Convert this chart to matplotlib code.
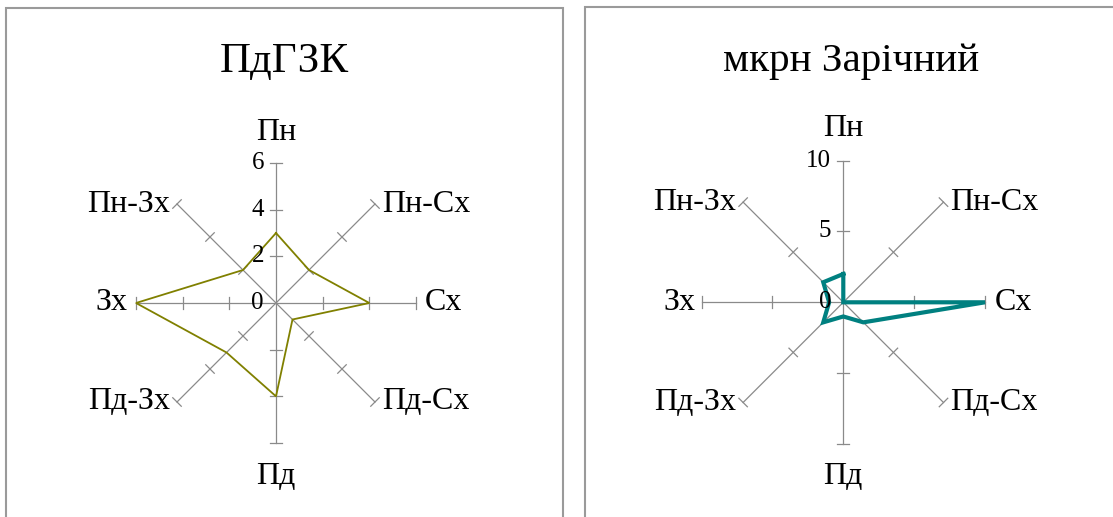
import numpy as np
import matplotlib
matplotlib.use("Agg")
import matplotlib.pyplot as plt
from matplotlib.patches import Rectangle

plt.rcParams['font.family'] = ['Liberation Serif', 'DejaVu Serif']

# напрямки вітру (за годинниковою стрілкою від півночі)
directions = ['Пн', 'Пн-Сх', 'Сх', 'Пд-Сх', 'Пд', 'Пд-Зх', 'Зх', 'Пн-Зх']

# ПдГЗК
title_left = 'ПдГЗК'
values_left = [3, 2, 4, 1, 4, 3, 6, 2]
ticks_left = [0, 2, 4, 6]

# мкрн Зарічний
title_right = 'мкрн Зарічний'
values_right = [2, 0, 10, 2, 1, 2, 1, 2]
ticks_right = [0, 5, 10]

W, H = 1113, 517
fig = plt.figure(figsize=(W / 100, H / 100), dpi=100)

# рамки діаграм
grey = '#9a9a9a'
fig.patches.append(Rectangle((6 / W, -0.05), (563 - 6) / W, 1.05 - 8 / H,
                             transform=fig.transFigure, fill=False,
                             edgecolor=grey, lw=1.5))
fig.patches.append(Rectangle((585 / W, -0.05), 0.6, 1.05 - 7 / H,
                             transform=fig.transFigure, fill=False,
                             edgecolor=grey, lw=1.5))


def radar(rect, title, title_x, title_fs, values, ticks, color, lw, lab_off):
    ax = fig.add_axes(rect, projection='polar')
    ax.set_theta_zero_location('N')
    ax.set_theta_direction(-1)
    rmax = ticks[-1]
    ax.set_ylim(0, rmax)
    ax.axis('off')

    angles = np.deg2rad(np.arange(len(directions)) * 45.0)
    radius_px = rect[2] * W / 2
    h = 6 * rmax / radius_px  # половина довжини рисок

    spoke = '#8a8a8a'
    for a in angles:
        ax.plot([a, a], [0, rmax], color=spoke, lw=0.9, clip_on=False)
        for t in ticks[1:]:
            d = np.arctan(h / t)
            rr = np.hypot(t, h)
            ax.plot([a - d, a + d], [rr, rr], color=spoke, lw=0.9, clip_on=False)

    # підписи шкали
    for t in ticks:
        ax.annotate(str(t), xy=(0, t), xytext=(-12, 0), textcoords='offset pixels',
                    ha='right', va='center', fontsize=18)

    # дані
    vals = values + values[:1]
    angs = list(angles) + [angles[0]]
    ax.plot(angs, vals, color=color, lw=lw, clip_on=False, solid_joinstyle='miter')

    # підписи напрямків
    offs = {
        0: ((0, lab_off[0]), 'center', 'center'),
        1: ((7, 0), 'left', 'center'),
        2: ((lab_off[1], 0), 'left', 'center'),
        3: ((7, 0), 'left', 'center'),
        4: ((0, -lab_off[2]), 'center', 'center'),
        5: ((-7, 0), 'right', 'center'),
        6: ((-lab_off[3], 0), 'right', 'center'),
        7: ((-7, 0), 'right', 'center'),
    }
    for i, name in enumerate(directions):
        (dx, dy), ha, va = offs[i]
        ax.annotate(name, xy=(angles[i], rmax), xytext=(dx, dy),
                    textcoords='offset pixels', ha=ha, va=va, fontsize=23)

    fig.text(title_x / W, 1 - 62 / H, title, ha='center', va='center',
             fontsize=title_fs)
    return ax


radar([136 / W, (H - 443) / H, 280 / W, 280 / H], title_left, 284, 31,
      values_left, ticks_left, '#808000', 1.3, (30, 9, 34, 9))
radar([701.6 / W, (H - 444) / H, 283.4 / W, 283.4 / H], title_right, 851, 29.5,
      values_right, ticks_right, '#008080', 3.0, (32, 10, 33, 6))

fig.savefig('out.png', dpi=100)
